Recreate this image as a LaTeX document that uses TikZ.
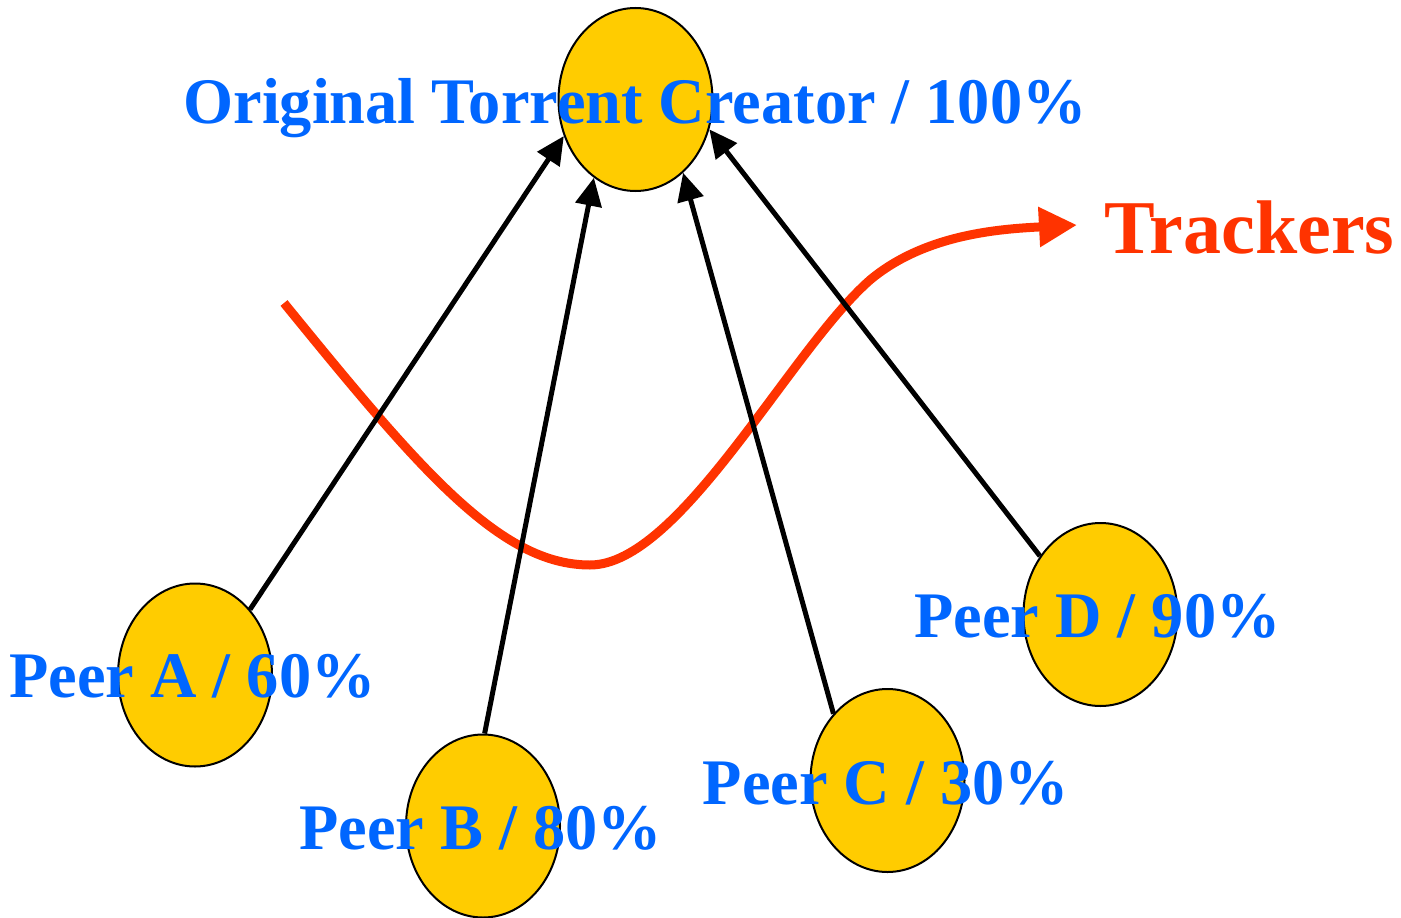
\documentclass[tikz,border=0pt]{standalone}
\usepackage{fontspec}
\setmainfont{Liberation Serif}
\newfontfamily\lblfont{Liberation Serif}[FakeStretch=0.99]
\usetikzlibrary{arrows.meta,shapes.geometric}
\definecolor{peerfill}{RGB}{255,204,0}
\definecolor{lblblue}{RGB}{0,102,255}
\definecolor{trkred}{RGB}{255,51,0}
\begin{document}
\begin{tikzpicture}[x=1pt,y=-1pt,
  peer/.style={ellipse, draw=black, line width=2pt, fill=peerfill,
    minimum width=154pt, minimum height=183pt, inner sep=0pt},
  lbl/.style={anchor=base, inner sep=0pt, text=lblblue,
    font=\lblfont\bfseries\fontsize{65}{70}\selectfont},
  link/.style={draw=black, line width=5pt, -{Triangle[length=28pt,width=26pt]}},
  trk/.style={draw=trkred, line width=9pt, -{Triangle[length=38pt,width=38pt]}}
]
\useasboundingbox (0,0) rectangle (1401,918);

% tracker curve
\coordinate (cs) at (284,303);
\coordinate (ce) at (1077,225);
\draw[trk] (cs) .. controls (420,470) and (500,565) .. (590,565)
  .. controls (680,565) and (790,350) .. (870,280)
  .. controls (925,234) and (1000,229) .. (ce);

% ellipses
\node[peer] (top) at (635.5,99.5) {};
\node[peer] (pa) at (195,675) {};
\node[peer] (pb) at (483,826) {};
\node[peer] (pc) at (887.5,780.5) {};
\node[peer] (pd) at (1100.5,614.5) {};

% labels
\node[lbl] (ttop) at (635,123.5) {Original Torrent Creator / 100\%};
\node[lbl] (ta) at (192.5,697.7) {Peer A / 60\%};
\node[lbl] (tb) at (480.5,849) {Peer B / 80\%};
\node[lbl] (tc) at (886,804) {Peer C / 30\%};
\node[lbl] (td) at (1097.5,637.3) {Peer D / 90\%};
\node[anchor=base, inner sep=0pt, text=trkred,
  font=\bfseries\fontsize{76}{80}\selectfont] (ttrk) at (1249.5,253) {Trackers};

% links
\draw[link] (pa.50) -- (top.207);
\draw[link] (pb.89) -- (top.242);
\draw[link] (pc.129) -- (top.303);
\draw[link] (pd.136) -- (top.338);
\end{tikzpicture}
\end{document}
